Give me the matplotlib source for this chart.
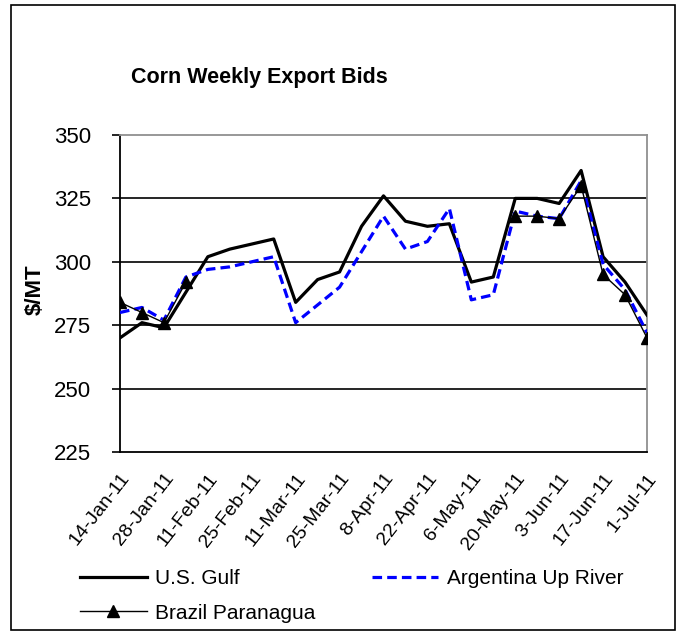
import numpy as np
import matplotlib
matplotlib.use("Agg")
import matplotlib.pyplot as plt
from matplotlib.patches import Rectangle

plt.rcParams['font.family'] = ['Liberation Sans', 'DejaVu Sans']

dates = ['14-Jan-11', '21-Jan-11', '28-Jan-11', '4-Feb-11', '11-Feb-11', '18-Feb-11',
         '25-Feb-11', '4-Mar-11', '11-Mar-11', '18-Mar-11', '25-Mar-11', '1-Apr-11',
         '8-Apr-11', '15-Apr-11', '22-Apr-11', '29-Apr-11', '6-May-11', '13-May-11',
         '20-May-11', '27-May-11', '3-Jun-11', '10-Jun-11', '17-Jun-11', '24-Jun-11',
         '1-Jul-11']
us_gulf = [270, 276, 274, 288, 302, 305, 307, 309, 284, 293, 296, 314,
           326, 316, 314, 315, 292, 294, 325, 325, 323, 336, 302, 292, 279]
argentina = [280, 282, 277, 294, 297, 298, 300, 302, 276, 283, 290, 304,
             318, 305, 308, 321, 285, 287, 320, 318, 317, 332, 299, 289, 272]
nan = np.nan
brazil = [284, 280, 276, 292, nan, nan, nan, nan, nan, nan, nan, nan,
          nan, nan, nan, nan, nan, nan, 318, 318, 317, 330, 295, 287, 270]
yticks = [225, 250, 275, 300, 325, 350]

W, H = 678, 631
fig = plt.figure(figsize=(W / 100, H / 100), dpi=100)
fig.patch.set_facecolor('white')
fig.patches.append(Rectangle((11 / W, 1 / H), 664 / W, 625 / H, transform=fig.transFigure,
                             fill=False, edgecolor='black', linewidth=1.2))

ax = fig.add_axes([120 / W, 1 - 452 / H, 527 / W, 317 / H])
x = np.arange(len(dates))

for yv in yticks[1:-1]:
    ax.axhline(yv, color='black', linewidth=1.2, zorder=1)

l_us, = ax.plot(x, us_gulf, color='black', linewidth=2.3, zorder=3, label='U.S. Gulf')
l_ar, = ax.plot(x, argentina, color='#0000FF', linewidth=2.3, zorder=4,
                dashes=(3, 1.6), label='Argentina Up River')
l_br, = ax.plot(x, brazil, color='black', linewidth=1.0, marker='^', markersize=8,
                zorder=5, label='Brazil Paranagua')

ax.set_xlim(0, len(dates) - 1)
ax.set_ylim(225, 350)
ax.set_yticks(yticks)
ax.set_yticklabels([str(v) for v in yticks], fontsize=16)
ax.set_xticks(x[::2])
ax.set_xticklabels(dates[::2], fontsize=14, rotation=52, ha='right',
                   rotation_mode='anchor')
ax.tick_params(axis='x', length=0, pad=13)
ax.tick_params(axis='y', direction='out', length=6, width=1.2, pad=15)

for s in ['left', 'bottom']:
    ax.spines[s].set_color('black')
    ax.spines[s].set_linewidth(1.3)
for s in ['top', 'right']:
    ax.spines[s].set_color('#909090')
    ax.spines[s].set_linewidth(1.3)

fig.text(259 / W, 1 - 78 / H, 'Corn Weekly Export Bids', fontsize=15.5, fontweight='bold',
         ha='center', va='center')
fig.text(35 / W, 1 - 290 / H, '$/MT', fontsize=16, fontweight='bold', rotation=90,
         ha='center', va='center')

fig.legend([l_us, l_br, l_ar], ['U.S. Gulf', 'Brazil Paranagua', 'Argentina Up River'],
           ncol=2, loc='upper left', bbox_to_anchor=(80 / W, 1 - 569 / H),
           frameon=False, fontsize=15, borderpad=0, borderaxespad=0,
           handlelength=3.2, handletextpad=0.4, columnspacing=2.7, labelspacing=0.75)

fig.savefig('out.png', dpi=100)
